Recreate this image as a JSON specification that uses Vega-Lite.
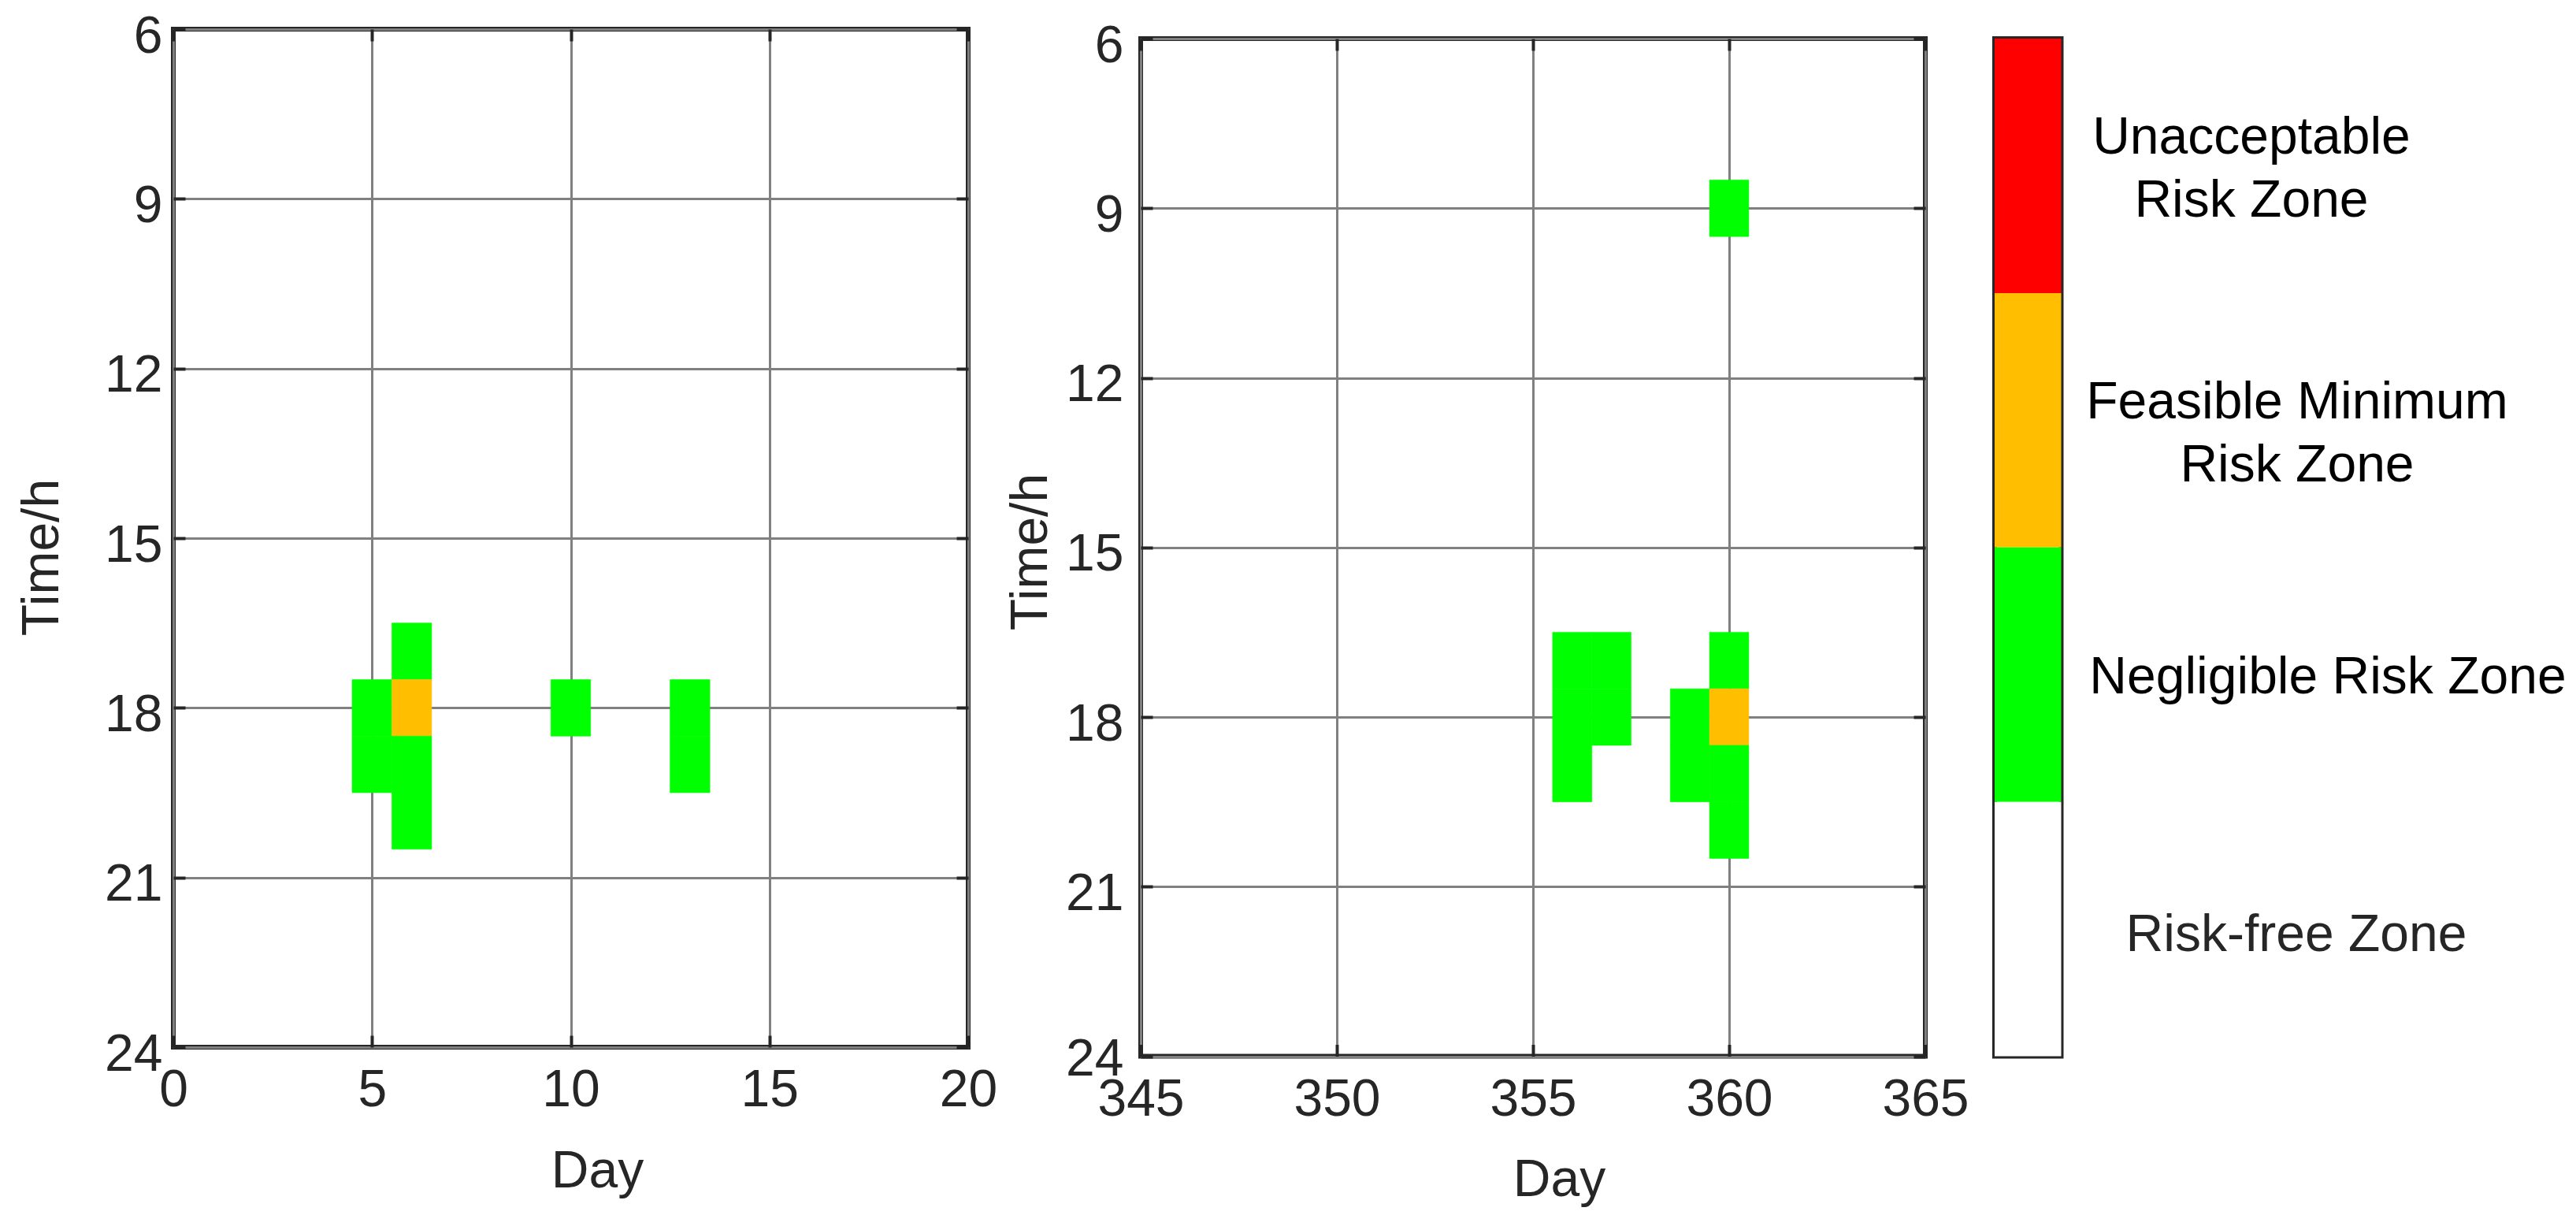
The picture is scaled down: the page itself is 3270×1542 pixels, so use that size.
{
  "$schema": "https://vega.github.io/schema/vega-lite/v6.json",
  "description": "Risk zones by day and hour for the first and last days of the year, with a colour bar legend.",
  "background": "white",
  "autosize": {"type": "pad"},
  "padding": {"left": 17, "top": 10, "right": 0, "bottom": 0},
  "datasets": {
    "early": [
      {"day": 5, "hour": 18, "risk": "Negligible Risk Zone"},
      {"day": 5, "hour": 19, "risk": "Negligible Risk Zone"},
      {"day": 6, "hour": 17, "risk": "Negligible Risk Zone"},
      {"day": 6, "hour": 18, "risk": "Feasible Minimum Risk Zone"},
      {"day": 6, "hour": 19, "risk": "Negligible Risk Zone"},
      {"day": 6, "hour": 20, "risk": "Negligible Risk Zone"},
      {"day": 10, "hour": 18, "risk": "Negligible Risk Zone"},
      {"day": 13, "hour": 18, "risk": "Negligible Risk Zone"},
      {"day": 13, "hour": 19, "risk": "Negligible Risk Zone"}
    ],
    "late": [
      {"day": 356, "hour": 17, "risk": "Negligible Risk Zone"},
      {"day": 356, "hour": 18, "risk": "Negligible Risk Zone"},
      {"day": 356, "hour": 19, "risk": "Negligible Risk Zone"},
      {"day": 357, "hour": 17, "risk": "Negligible Risk Zone"},
      {"day": 357, "hour": 18, "risk": "Negligible Risk Zone"},
      {"day": 359, "hour": 18, "risk": "Negligible Risk Zone"},
      {"day": 359, "hour": 19, "risk": "Negligible Risk Zone"},
      {"day": 360, "hour": 9, "risk": "Negligible Risk Zone"},
      {"day": 360, "hour": 17, "risk": "Negligible Risk Zone"},
      {"day": 360, "hour": 18, "risk": "Feasible Minimum Risk Zone"},
      {"day": 360, "hour": 19, "risk": "Negligible Risk Zone"},
      {"day": 360, "hour": 20, "risk": "Negligible Risk Zone"}
    ],
    "zones": [
      {"zone": "Unacceptable Risk Zone"},
      {"zone": "Feasible Minimum Risk Zone"},
      {"zone": "Negligible Risk Zone"},
      {"zone": "Risk-free Zone"}
    ]
  },
  "bounds": "flush",
  "spacing": 219,
  "hconcat": [
    {
      "width": 1009,
      "height": 1292,
      "view": {"stroke": "#262626", "strokeWidth": 6},
      "data": {"name": "early"},
      "layer": [
        {
          "mark": {"type": "rect", "width": 50.45, "height": 71.78, "strokeWidth": 0.6},
          "encoding": {
            "x": {
              "field": "day", "type": "quantitative",
              "scale": {"domain": [0, 20], "nice": false, "zero": false},
              "axis": {"orient": "bottom", "title": "Day", "values": [0, 5, 10, 15, 20],
                       "labelPadding": 37, "labelDx": 14, "titleX": 538, "titleY": 125,
                       "titleAlign": "center", "titleBaseline": "top"}
            },
            "y": {
              "field": "hour", "type": "quantitative",
              "scale": {"domain": [6, 24], "nice": false, "zero": false, "reverse": true},
              "axis": {"orient": "left", "title": "Time/h", "values": [6, 9, 12, 15, 18, 21, 24],
                       "labelPadding": 29, "labelOffset": 9, "titleX": -133, "titleY": 670,
                       "titleAngle": -90, "titleAlign": "center", "titleBaseline": "bottom"}
            },
            "fill": {"field": "risk", "type": "nominal", "legend": null,
                     "scale": {"domain": ["Unacceptable Risk Zone", "Feasible Minimum Risk Zone", "Negligible Risk Zone", "Risk-free Zone"],
                               "range": ["#FF0000", "#FFBF00", "#00FF00", "#FFFFFF"]}},
            "stroke": {"field": "risk", "type": "nominal", "legend": null,
                       "scale": {"domain": ["Unacceptable Risk Zone", "Feasible Minimum Risk Zone", "Negligible Risk Zone", "Risk-free Zone"],
                                 "range": ["#FF0000", "#FFBF00", "#00FF00", "#FFFFFF"]}}
          }
        },
        {
          "mark": {"type": "point", "opacity": 0},
          "encoding": {
            "x": {"field": "day", "type": "quantitative",
                  "scale": {"domain": [0, 20], "nice": false, "zero": false},
                  "axis": {"orient": "top", "title": null, "labels": false, "grid": false, "values": [0, 5, 10, 15, 20]}},
            "y": {"field": "hour", "type": "quantitative",
                  "scale": {"domain": [6, 24], "nice": false, "zero": false, "reverse": true},
                  "axis": {"orient": "right", "title": null, "labels": false, "grid": false, "values": [6, 9, 12, 15, 18, 21, 24]}}
          }
        }
      ],
      "resolve": {"axis": {"x": "independent", "y": "independent"}}
    },
    {
      "bounds": "flush",
      "spacing": 0,
      "vconcat": [
        {
          "width": 1,
          "height": 12,
          "view": {"stroke": null},
          "data": {"values": []},
          "mark": "rect"
        },
        {
          "bounds": "flush",
          "spacing": 88,
          "hconcat": [
            {
              "width": 996,
              "height": 1291.5,
              "view": {"stroke": "#262626", "strokeWidth": 6},
              "data": {"name": "late"},
              "layer": [
                {
                  "mark": {"type": "rect", "width": 49.8, "height": 71.75, "strokeWidth": 0.6},
                  "encoding": {
                    "x": {
                      "field": "day", "type": "quantitative",
                      "scale": {"domain": [345, 365], "nice": false, "zero": false},
                      "axis": {"orient": "bottom", "title": "Day", "values": [345, 350, 355, 360, 365],
                               "labelPadding": 38, "labelDx": 15, "titleX": 531, "titleY": 125,
                               "titleAlign": "center", "titleBaseline": "top"}
                    },
                    "y": {
                      "field": "hour", "type": "quantitative",
                      "scale": {"domain": [6, 24], "nice": false, "zero": false, "reverse": true},
                      "axis": {"orient": "left", "title": "Time/h", "values": [6, 9, 12, 15, 18, 21, 24],
                               "labelPadding": 37,
                               "labelOffset": {"condition": {"test": "datum.value == 24", "value": 4}, "value": 9},
                               "titleX": -106, "titleY": 651,
                               "titleAngle": -90, "titleAlign": "center", "titleBaseline": "bottom"}
                    },
                    "fill": {"field": "risk", "type": "nominal", "legend": null,
                             "scale": {"domain": ["Unacceptable Risk Zone", "Feasible Minimum Risk Zone", "Negligible Risk Zone", "Risk-free Zone"],
                                       "range": ["#FF0000", "#FFBF00", "#00FF00", "#FFFFFF"]}},
                    "stroke": {"field": "risk", "type": "nominal", "legend": null,
                               "scale": {"domain": ["Unacceptable Risk Zone", "Feasible Minimum Risk Zone", "Negligible Risk Zone", "Risk-free Zone"],
                                         "range": ["#FF0000", "#FFBF00", "#00FF00", "#FFFFFF"]}}
                  }
                },
                {
                  "mark": {"type": "point", "opacity": 0},
                  "encoding": {
                    "x": {"field": "day", "type": "quantitative",
                          "scale": {"domain": [345, 365], "nice": false, "zero": false},
                          "axis": {"orient": "top", "title": null, "labels": false, "grid": false, "values": [345, 350, 355, 360, 365]}},
                    "y": {"field": "hour", "type": "quantitative",
                          "scale": {"domain": [6, 24], "nice": false, "zero": false, "reverse": true},
                          "axis": {"orient": "right", "title": null, "labels": false, "grid": false, "values": [6, 9, 12, 15, 18, 21, 24]}}
                  }
                }
              ],
              "resolve": {"axis": {"x": "independent", "y": "independent"}}
            },
            {
              "width": 84.5,
              "height": 1291.5,
              "view": {"stroke": "#262626", "strokeWidth": 6},
              "data": {"name": "zones"},
              "mark": "rect",
              "encoding": {
                "y": {
                  "field": "zone", "type": "nominal",
                  "sort": ["Unacceptable Risk Zone", "Feasible Minimum Risk Zone", "Negligible Risk Zone", "Risk-free Zone"],
                  "scale": {"paddingInner": 0, "paddingOuter": 0},
                  "axis": {"orient": "right", "title": null, "grid": false,
                           "labelAlign": "center",
                           "labelBaseline": "middle",
                           "labelPadding": {"condition": [
                             {"test": "datum.value == 'Unacceptable Risk Zone'", "value": 256},
                             {"test": "datum.value == 'Feasible Minimum Risk Zone'", "value": 314},
                             {"test": "datum.value == 'Negligible Risk Zone'", "value": 353}
                           ], "value": 313},
                           "labelOffset": {"condition": [
                             {"test": "datum.value == 'Unacceptable Risk Zone'", "value": -35},
                             {"test": "datum.value == 'Feasible Minimum Risk Zone'", "value": -22},
                             {"test": "datum.value == 'Negligible Risk Zone'", "value": 4}
                           ], "value": 8},
                           "labelColor": {"condition": {"test": "datum.value == 'Risk-free Zone'", "value": "#262626"}, "value": "#000000"},
                           "labelLimit": 0, "labelLineHeight": 80,
                           "labelExpr": "datum.value == 'Unacceptable Risk Zone' ? ['Unacceptable', 'Risk Zone'] : datum.value == 'Feasible Minimum Risk Zone' ? ['Feasible Minimum', 'Risk Zone'] : datum.value"}
                },
                "color": {"field": "zone", "type": "nominal", "legend": null,
                          "scale": {"domain": ["Unacceptable Risk Zone", "Feasible Minimum Risk Zone", "Negligible Risk Zone", "Risk-free Zone"],
                                    "range": ["#FF0000", "#FFBF00", "#00FF00", "#FFFFFF"]}}
              }
            }
          ]
        }
      ]
    }
  ],
  "config": {
    "font": "Liberation Sans",
    "view": {"stroke": "#262626", "strokeWidth": 6},
    "axis": {
      "domain": false,
      "grid": true,
      "gridColor": "#808080",
      "gridWidth": 3,
      "gridOpacity": 1,
      "ticks": true,
      "tickSize": -15,
      "tickWidth": 4,
      "tickColor": "#262626",
      "labelFont": "Liberation Sans",
      "labelFontSize": 66,
      "labelColor": "#262626",
      "labelFlush": false,
      "labelOverlap": false,
      "titleFont": "Liberation Sans",
      "titleFontSize": 66,
      "titleFontWeight": "normal",
      "titleColor": "#262626",
      "zindex": 1
    }
  }
}
